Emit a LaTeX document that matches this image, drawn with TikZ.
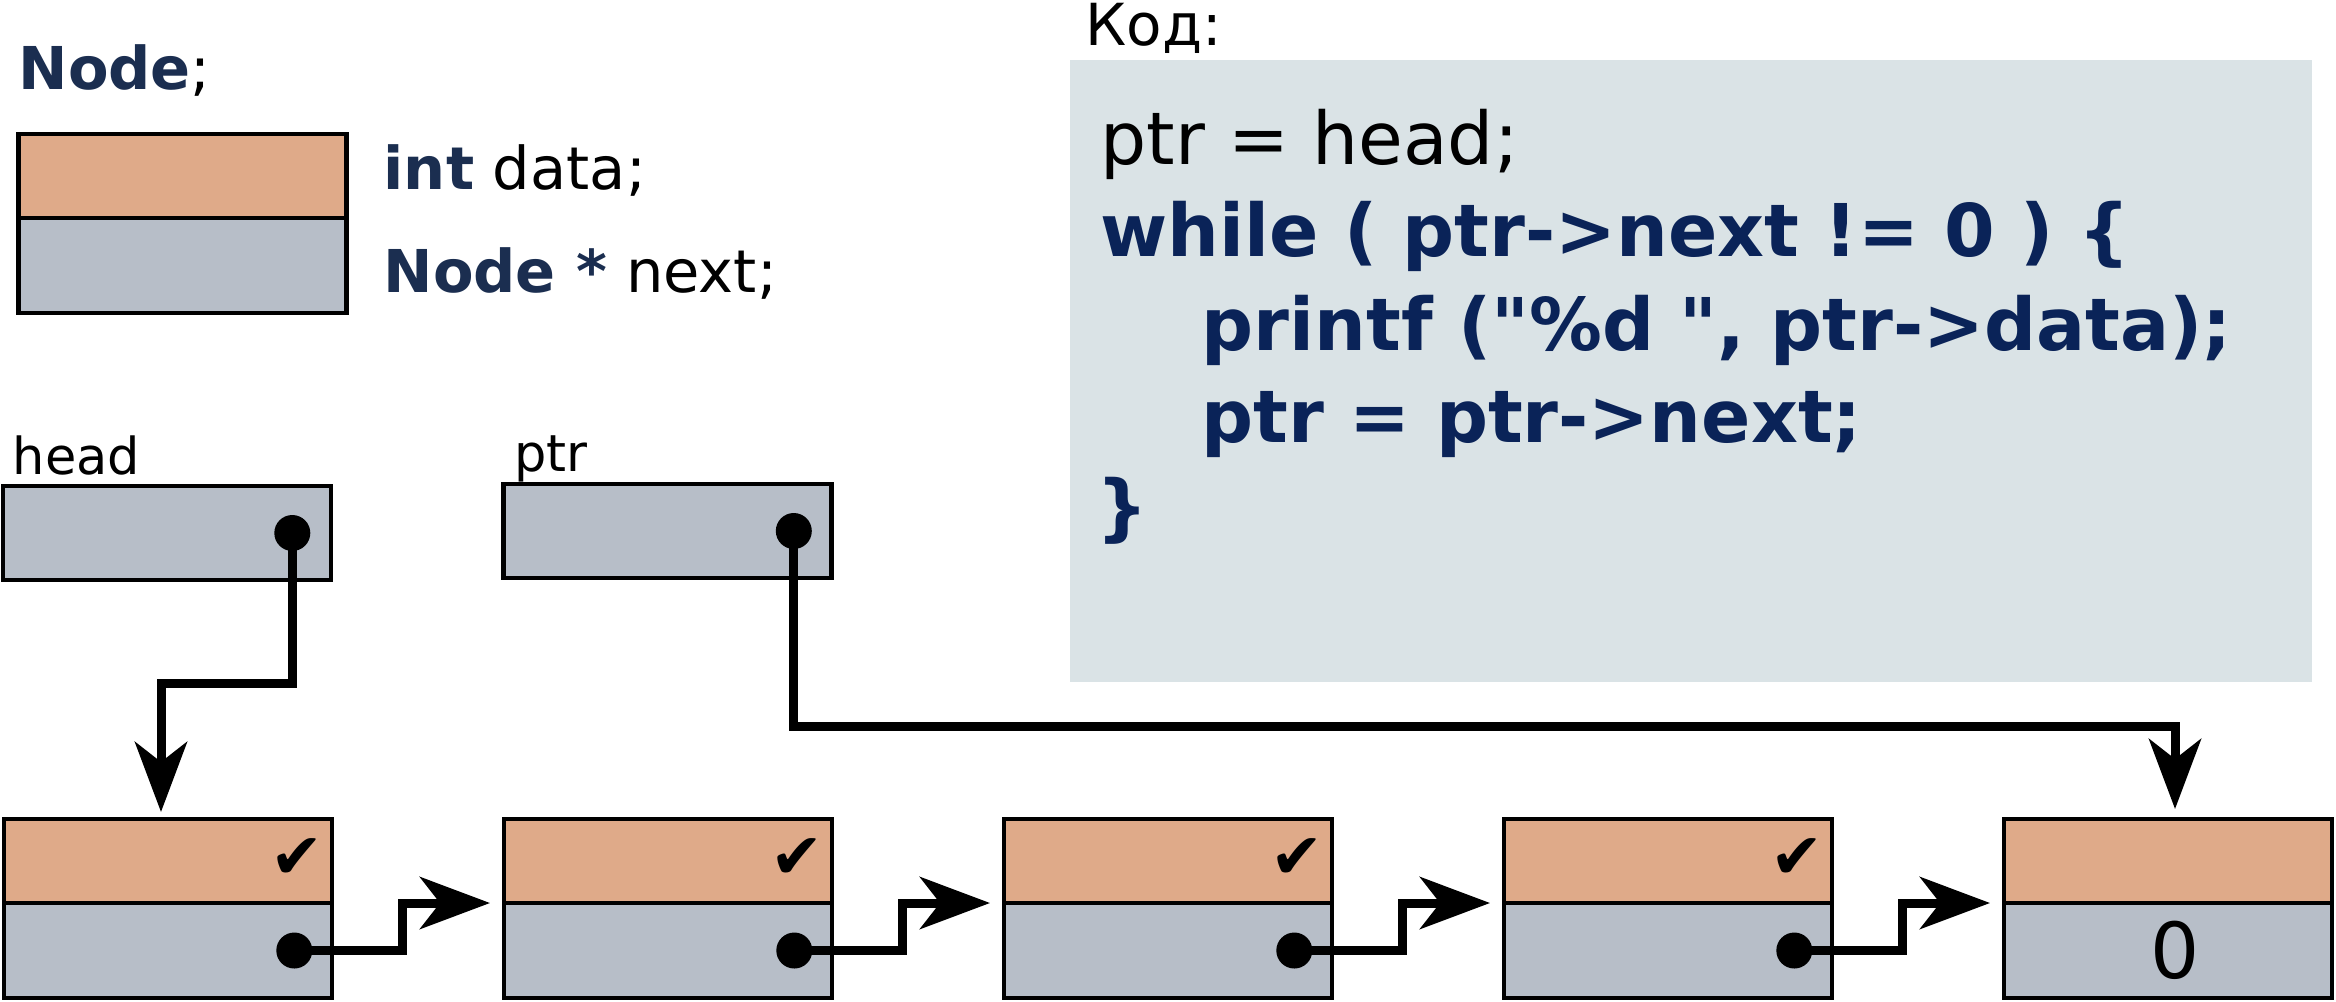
\documentclass[tikz,border=0pt]{standalone}
\usepackage{fontspec}
\setmainfont{DejaVu Sans}
\newfontfamily\codefont{DejaVu Sans}[Ligatures=TeXOff]
\usetikzlibrary{positioning, arrows.meta, calc}
\definecolor{FieldOrange}{RGB}{223, 170, 137}
\definecolor{FieldGray}{RGB}{183, 190, 200}
\definecolor{CodeBack}{RGB}{218, 227, 230}
\definecolor{TypeBlue}{RGB}{27, 46, 80}
\definecolor{CodeBlue}{RGB}{10, 35, 88}

\begin{document}
\begin{tikzpicture}[
    datafield/.style={rectangle, draw=black, line width=1.2pt, fill=FieldOrange, minimum width=3.28cm, minimum height=0.84cm, inner sep=0pt, outer sep=0pt},
    nextfield/.style={rectangle, draw=black, line width=1.2pt, fill=FieldGray, minimum width=3.28cm, minimum height=0.95cm, inner sep=0pt, outer sep=0pt},
    dot/.style={circle, fill=black, minimum size=0.36cm, inner sep=0pt},
    link/.style={-{Stealth[length=0.7cm, width=0.52cm, inset=0.2cm]}, line width=0.09cm, black},
    plain/.style={anchor=base west, inner sep=0pt},
    legendfont/.style={font=\fontsize{16.8}{20}\selectfont},
    codeline/.style={anchor=base west, inner sep=0pt, text=CodeBlue, font=\codefont\fontsize{20.7}{25}\selectfont\bfseries}
  ]
    \useasboundingbox (0, 0) rectangle (23.36, -10.01);

    % Legend
    \node[plain, legendfont] (legtitle) at (0.18, -0.89) {\textcolor{TypeBlue}{\bfseries Node};};
    \node[datafield] (legdata) at (1.825, -1.76) {};
    \node[nextfield, below=0pt of legdata] (legnext) {};
    \node[plain, legendfont] (legint) at (3.83, -1.89) {\textcolor{TypeBlue}{\bfseries int} data;};
    \node[plain, legendfont] (legptr) at (3.83, -2.92) {\textcolor{TypeBlue}{\bfseries Node *} next;};

    % Code
    \node[fill=CodeBack, minimum width=12.42cm, minimum height=6.22cm, inner sep=0pt] (codebox) at (16.91, -3.71) {};
    \node[plain, font=\fontsize{16.5}{20}\selectfont] (codetitle) at (10.85, -0.45) {Код:};
    \node[plain, font=\fontsize{20.7}{25}\selectfont] (c1) at (11.00, -1.64) {ptr = head;};
    \node[codeline] (c2) at (11.00, -2.56) {while ( ptr->next != 0 ) \{};
    \node[codeline] (c3) at (12.01, -3.50) {printf ("\%d ", ptr->data);};
    \node[codeline] (c4) at (12.01, -4.42) {ptr = ptr->next;};
    \node[codeline] (c5) at (10.96, -5.32) {\}};

    % Pointers head and ptr
    \node[nextfield, minimum height=0.94cm] (head) at (1.67, -5.33) {};
    \node[nextfield, minimum height=0.94cm] (ptr) at (6.675, -5.31) {};
    \node[plain, font=\fontsize{14.5}{18}\selectfont] at ($(head.north west)+(0.09, 0.12)$) {head};
    \node[plain, font=\fontsize{14.5}{18}\selectfont] at ($(ptr.north west)+(0.10, 0.13)$) {ptr};
    \node[dot, left=0.2cm of head.east] (hd) {};
    \node[dot, left=0.19cm of ptr.east] (pd) {};

    % List cells
    \foreach \i in {1,...,5} {
      \node[datafield] (a\i) at ({1.68+5*(\i-1)}, -8.61) {};
      \node[nextfield, below=0pt of a\i] (b\i) {};
    }
    \foreach \i in {1,...,4} {
      \node[font=\fontsize{18}{20}\selectfont] at ($(a\i.east)+(-0.35, 0.02)$) {✔};
      \node[dot, left=0.19cm of b\i.east] (d\i) {};
    }
    \node[font=\fontsize{22}{26}\selectfont] at ($(b5.center)+(0.07, 0)$) {0};

    % Connections
    \coordinate (th) at ($(a1.north)+(-0.07, 0.07)$);
    \coordinate (tp) at ($(a5.north)+(0.07, 0.10)$);
    \draw[link] (hd.center) -- ++(0, -1.5) -| (th);
    \draw[link] (pd.center) -- ++(0, -1.95) -| (tp);
    \foreach \i/\j in {1/2, 2/3, 3/4, 4/5} {
      \coordinate (t\j) at ($(b\j.north west)+(-0.14, 0)$);
      \draw[link] (d\i.center) -- ++(1.08, 0) |- (t\j);
    }
  \end{tikzpicture}
\end{document}
